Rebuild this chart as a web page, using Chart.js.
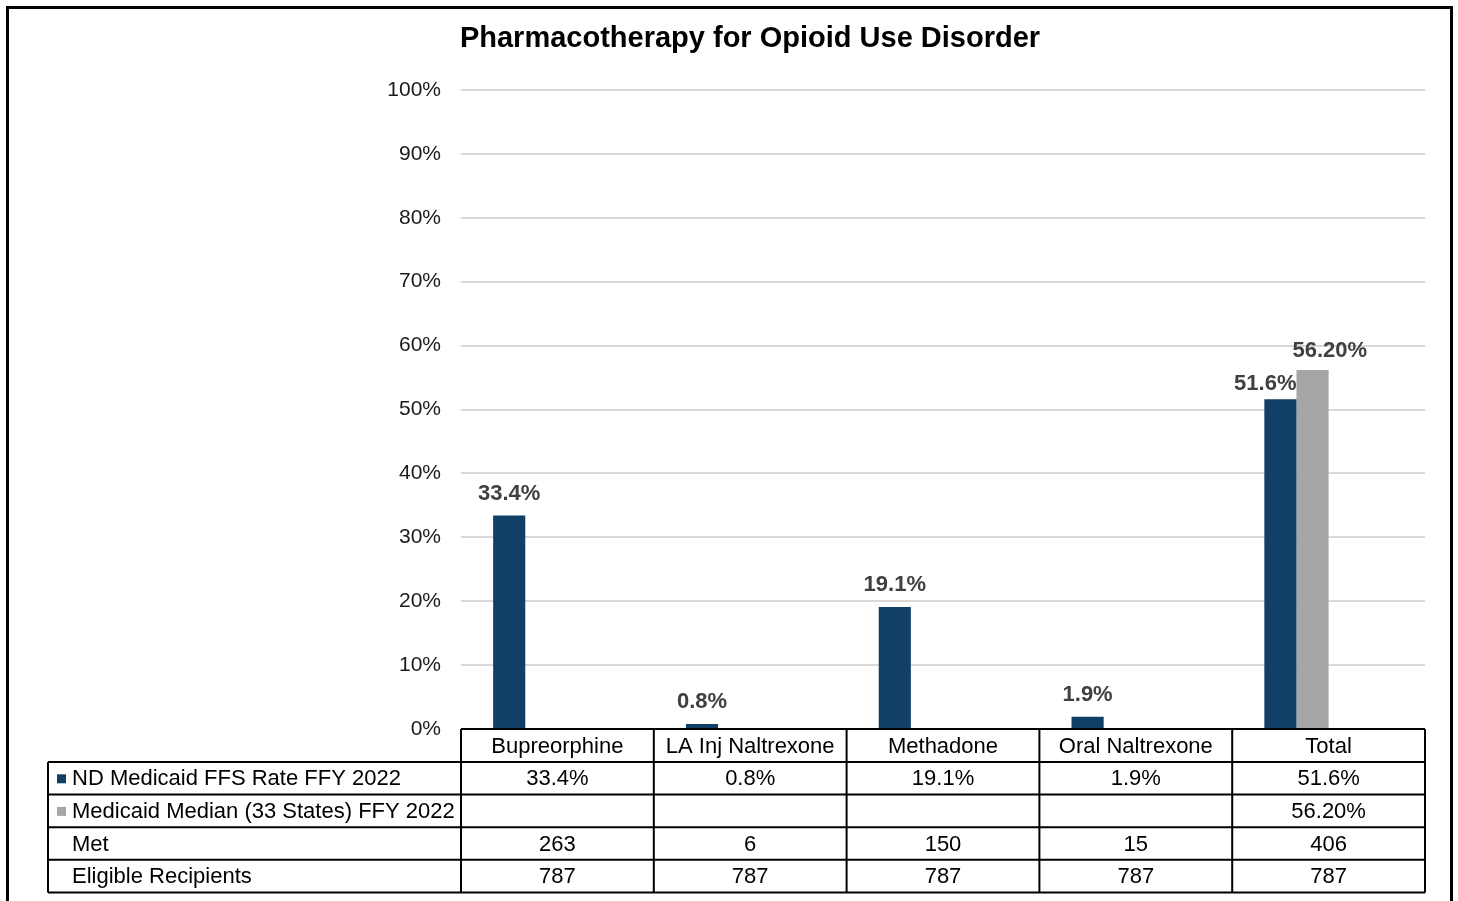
<!DOCTYPE html>
<html>
<head>
<meta charset="utf-8">
<script src="https://cdn.jsdelivr.net/npm/chart.js@4/dist/chart.umd.min.js"></script>
<style>
  body { margin: 0; background: #fff; }
  canvas { display: block; }
</style>
</head>
<body>
<canvas id="oudChart" width="1458" height="901"></canvas>
<script>
var categories = ['Bupreorphine', 'LA Inj Naltrexone', 'Methadone', 'Oral Naltrexone', 'Total'];
var ndRate = [33.4, 0.8, 19.1, 1.9, 51.6];
var medianRate = [null, null, null, null, 56.2];
var metCounts = [263, 6, 150, 15, 406];
var eligibleCounts = [787, 787, 787, 787, 787];
var emptySlot = [null, null, null, null, null];

var navy = '#123F66';
var gray = '#A6A6A6';
var font = '"Liberation Sans", Arial, sans-serif';

// frame, title, bar labels and the data table under the plot
var tablePlugin = {
    id: 'tablePlugin',
    afterDraw: function(chart) {
        var ctx = chart.ctx;
        var area = chart.chartArea;
        var xs = chart.scales.x;
        var catW = (area.right - area.left) / categories.length;
        ctx.save();

        // outer frame (bottom edge runs off the picture)
        ctx.strokeStyle = '#000';
        ctx.lineWidth = 3;
        ctx.beginPath();
        ctx.moveTo(7.5, 901);
        ctx.lineTo(7.5, 7.5);
        ctx.lineTo(1451.5, 7.5);
        ctx.lineTo(1451.5, 901);
        ctx.stroke();

        // title
        ctx.fillStyle = '#000';
        ctx.font = 'bold 29px ' + font;
        ctx.textAlign = 'center';
        ctx.textBaseline = 'middle';
        ctx.fillText('Pharmacotherapy for Opioid Use Disorder', 750, 39);

        // value labels above bars
        ctx.font = 'bold 22px ' + font;
        ctx.fillStyle = '#404040';
        [0, 1].forEach(function(di) {
            var meta = chart.getDatasetMeta(di);
            var ds = chart.data.datasets[di];
            meta.data.forEach(function(bar, i) {
                var v = ds.data[i];
                if (v === null) return;
                var text = v.toFixed(ds.decimals) + '%';
                var other = chart.data.datasets[1 - di].data[i];
                var x = bar.x;
                ctx.textAlign = 'center';
                if (other !== null) {
                    if (di === 0) { ctx.textAlign = 'right'; x = bar.x + bar.width / 2; }
                    else { ctx.textAlign = 'left'; x = bar.x - bar.width / 2 - 4; }
                }
                ctx.fillText(text, x, bar.y - (other !== null ? (di === 0 ? 15 : 19) : 22));
            });
        });

        // data table
        var top = area.bottom;
        var headH = 33;
        var rowH = 32.6;
        var leftX = 48;
        var rows = [
            { label: 'ND Medicaid FFS Rate FFY 2022', color: navy, vals: ndRate.map(function(v) { return v === null ? '' : v.toFixed(1) + '%'; }) },
            { label: 'Medicaid Median (33 States) FFY 2022', color: gray, vals: medianRate.map(function(v) { return v === null ? '' : v.toFixed(2) + '%'; }) },
            { label: 'Met', color: null, vals: metCounts.map(String) },
            { label: 'Eligible Recipients', color: null, vals: eligibleCounts.map(String) }
        ];
        var bottom = top + headH + rows.length * rowH;

        ctx.strokeStyle = '#000';
        ctx.lineWidth = 2;
        ctx.beginPath();
        ctx.moveTo(area.left, top);
        ctx.lineTo(area.right, top);
        for (var r = 0; r <= rows.length; r++) {
            var y = top + headH + r * rowH;
            ctx.moveTo(leftX, y);
            ctx.lineTo(area.right, y);
        }
        ctx.moveTo(leftX, top + headH);
        ctx.lineTo(leftX, bottom);
        for (var c = 0; c <= categories.length; c++) {
            var cx = area.left + c * catW;
            ctx.moveTo(cx, top);
            ctx.lineTo(cx, bottom);
        }
        ctx.stroke();

        ctx.font = '22px ' + font;
        ctx.fillStyle = '#000';
        ctx.textBaseline = 'middle';
        ctx.textAlign = 'center';
        categories.forEach(function(cat, i) {
            ctx.fillText(cat, xs.getPixelForValue(i), top + headH / 2 + 1);
        });
        rows.forEach(function(row, r) {
            var cy = top + headH + r * rowH + rowH / 2 + 1;
            if (row.color) {
                ctx.fillStyle = row.color;
                ctx.fillRect(57, cy - 5, 9, 9);
            }
            ctx.fillStyle = '#000';
            ctx.textAlign = 'left';
            ctx.fillText(row.label, 72, cy);
            ctx.textAlign = 'center';
            row.vals.forEach(function(v, i) {
                ctx.fillText(v, xs.getPixelForValue(i), cy);
            });
        });
        ctx.restore();
    }
};

var ctx = document.getElementById('oudChart').getContext('2d');
new Chart(ctx, {
    type: 'bar',
    data: {
        labels: categories,
        datasets: [{
            label: 'ND Medicaid FFS Rate FFY 2022',
            data: ndRate,
            backgroundColor: navy,
            decimals: 1
        }, {
            label: 'Medicaid Median (33 States) FFY 2022',
            data: medianRate,
            backgroundColor: gray,
            decimals: 2
        }, {
            label: 'Met',
            data: emptySlot,
            backgroundColor: 'rgba(0,0,0,0)'
        }, {
            label: 'Eligible Recipients',
            data: emptySlot,
            backgroundColor: 'rgba(0,0,0,0)'
        }]
    },
    options: {
        responsive: false,
        animation: false,
        devicePixelRatio: 1,
        layout: {
            padding: { top: 90, right: 33, bottom: 172, left: 0 }
        },
        categoryPercentage: 4 / 6,
        barPercentage: 1,
        plugins: {
            legend: { display: false },
            title: { display: false },
            tooltip: { enabled: false }
        },
        scales: {
            x: {
                display: false
            },
            y: {
                min: 0,
                max: 100,
                afterFit: function(scale) { scale.width = 461; },
                ticks: {
                    stepSize: 10,
                    padding: 20,
                    color: '#1a1a1a',
                    font: { family: font, size: 21 },
                    callback: function(v) { return v + '%'; }
                },
                grid: {
                    color: '#d9d9d9',
                    lineWidth: 2,
                    drawTicks: false
                },
                border: { display: false }
            }
        }
    },
    plugins: [tablePlugin]
});
</script>
</body>
</html>
